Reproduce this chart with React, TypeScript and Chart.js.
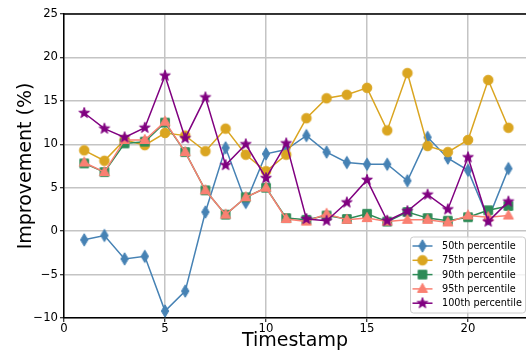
import React, { useEffect, useRef } from "react";
import { Chart, registerables } from "chart.js";

Chart.register(...registerables);

const timestamps = [1, 2, 3, 4, 5, 6, 7, 8, 9, 10, 11, 12, 13, 14, 15, 16, 17, 18, 19, 20, 21, 22];
const p50 = [-1.0, -0.5, -3.2, -2.9, -9.2, -6.9, 2.2, 9.6, 3.3, 8.9, 9.4, 11.0, 9.1, 7.9, 7.7, 7.7, 5.8, 10.8, 8.4, 7.0, 1.4, 7.2];
const p75 = [9.3, 8.1, 10.5, 9.9, 11.3, 11.0, 9.2, 11.8, 8.8, 6.9, 8.8, 13.0, 15.3, 15.7, 16.5, 11.6, 18.2, 9.8, 9.1, 10.5, 17.4, 11.9];
const p90 = [7.8, 6.8, 10.1, 10.3, 12.5, 9.1, 4.7, 1.9, 3.9, 5.0, 1.5, 1.3, 1.8, 1.4, 2.0, 1.1, 2.2, 1.5, 1.2, 1.6, 2.4, 2.9];
const p95 = [7.9, 6.8, 10.5, 10.5, 12.6, 9.1, 4.7, 1.9, 3.9, 5.0, 1.4, 1.1, 2.0, 1.3, 1.5, 1.1, 1.3, 1.3, 1.0, 1.8, 1.6, 1.8];
const p100 = [13.6, 11.8, 10.8, 11.9, 17.9, 10.7, 15.4, 7.6, 10.0, 6.1, 10.1, 1.4, 1.2, 3.3, 5.9, 1.2, 2.3, 4.2, 2.5, 8.5, 1.1, 3.4];

const seriesNames = ["50th percentile", "75th percentile", "90th percentile", "95th percentile", "100th percentile"];
const seriesColors = ["#4682b4", "#daa520", "#2e8b57", "#fa8072", "#800080"];
const seriesMarkers = ["thin_diamond", "circle", "square", "triangle", "star"];
const seriesValues = [p50, p75, p90, p95, p100];

const xTickValues = [0, 5, 10, 15, 20];
const yTickValues = [-10, -5, 0, 5, 10, 15, 20, 25];

const FONT = "'DejaVu Sans', sans-serif";

function makeMarker(kind: string, color: string): HTMLCanvasElement {
  const S = 16;
  const c = document.createElement("canvas");
  c.width = S;
  c.height = S;
  const ctx = c.getContext("2d")!;
  ctx.translate(S / 2, S / 2);
  ctx.fillStyle = color;
  ctx.strokeStyle = color;
  ctx.lineWidth = 1;
  ctx.beginPath();
  if (kind === "thin_diamond") {
    ctx.moveTo(0, -6.2);
    ctx.lineTo(3.7, 0);
    ctx.lineTo(0, 6.2);
    ctx.lineTo(-3.7, 0);
    ctx.closePath();
  } else if (kind === "circle") {
    ctx.arc(0, 0, 4.8, 0, Math.PI * 2);
  } else if (kind === "square") {
    ctx.rect(-4.3, -4.3, 8.6, 8.6);
  } else if (kind === "triangle") {
    ctx.moveTo(0, -5.6);
    ctx.lineTo(5.0, 3.5);
    ctx.lineTo(-5.0, 3.5);
    ctx.closePath();
  } else if (kind === "star") {
    const ro = 5.6, ri = 2.3;
    for (let i = 0; i < 10; i++) {
      const r = i % 2 === 0 ? ro : ri;
      const a = -Math.PI / 2 + (i * Math.PI) / 5;
      const px = r * Math.cos(a), py = r * Math.sin(a);
      if (i === 0) ctx.moveTo(px, py);
      else ctx.lineTo(px, py);
    }
    ctx.closePath();
  }
  ctx.fill();
  ctx.stroke();
  return c;
}

export default function App() {
  const ref = useRef<HTMLCanvasElement | null>(null);

  useEffect(() => {
    if (!ref.current) return;
    const markers = seriesMarkers.map((m, i) => makeMarker(m, seriesColors[i]));

    const datasets = seriesValues.map((vals, i) => ({
      label: seriesNames[i],
      data: vals.map((v, j) => ({ x: timestamps[j], y: v })),
      borderColor: seriesColors[i],
      backgroundColor: seriesColors[i],
      borderWidth: 1.5,
      pointStyle: markers[i] as any,
      pointRadius: 5,
      order: seriesValues.length - i,
      tension: 0,
    }));

    const framePlugin = {
      id: "frame",
      afterDraw(chart: any) {
        const { ctx, chartArea } = chart;
        const { left, right, top, bottom } = chartArea;
        ctx.save();
        // top spine
        ctx.strokeStyle = "#000";
        ctx.lineWidth = 1.5;
        ctx.beginPath();
        ctx.moveTo(left, top);
        ctx.lineTo(right, top);
        ctx.stroke();

        // legend
        const bw = 115, bh = 76;
        const bx = right - bw - 0.5, by = bottom - bh - 5;
        const rad = 3;
        ctx.beginPath();
        ctx.moveTo(bx + rad, by);
        ctx.lineTo(bx + bw - rad, by);
        ctx.quadraticCurveTo(bx + bw, by, bx + bw, by + rad);
        ctx.lineTo(bx + bw, by + bh - rad);
        ctx.quadraticCurveTo(bx + bw, by + bh, bx + bw - rad, by + bh);
        ctx.lineTo(bx + rad, by + bh);
        ctx.quadraticCurveTo(bx, by + bh, bx, by + bh - rad);
        ctx.lineTo(bx, by + rad);
        ctx.quadraticCurveTo(bx, by, bx + rad, by);
        ctx.closePath();
        ctx.fillStyle = "rgba(255,255,255,0.8)";
        ctx.fill();
        ctx.strokeStyle = "#cccccc";
        ctx.lineWidth = 1;
        ctx.stroke();

        ctx.font = `9.7px ${FONT}`;
        ctx.textBaseline = "middle";
        ctx.textAlign = "left";
        seriesNames.forEach((name, i) => {
          const ry = by + 9 + i * 14.3;
          ctx.strokeStyle = seriesColors[i];
          ctx.lineWidth = 1.5;
          ctx.beginPath();
          ctx.moveTo(bx + 2, ry);
          ctx.lineTo(bx + 22, ry);
          ctx.stroke();
          const m = markers[i];
          ctx.drawImage(m, bx + 12 - m.width / 2, ry - m.height / 2);
          ctx.fillStyle = "#000";
          ctx.fillText(name, bx + 31.5, ry + 0.5);
        });
        ctx.restore();
      },
    };

    const chart = new Chart(ref.current, {
      type: "line",
      data: { datasets },
      options: {
        animation: false,
        responsive: false,
        maintainAspectRatio: false,
        layout: { autoPadding: false, padding: { top: 14, left: 0, right: 0, bottom: 0 } },
        plugins: { legend: { display: false }, tooltip: { enabled: false } },
        scales: {
          x: {
            type: "linear",
            min: 0,
            max: 22.87,
            afterBuildTicks: (scale: any) => {
              scale.ticks = xTickValues.map((v) => ({ value: v }));
            },
            afterFit: (scale: any) => {
              scale.height = 33;
              scale.paddingLeft = 0;
              scale.paddingRight = 0;
            },
            ticks: {
              color: "#000",
              font: { family: FONT, size: 11.7 },
              padding: 0,
              maxRotation: 0,
            },
            grid: {
              color: "#c4c4c4",
              lineWidth: 1.5,
              tickColor: "#000",
              tickLength: 4,
              tickWidth: 1,
            },
            border: { color: "#000", width: 1.5 },
            title: {
              display: true,
              text: "Timestamp",
              color: "#000",
              font: { family: FONT, size: 19, lineHeight: 1 },
              padding: 0,
            },
          },
          y: {
            type: "linear",
            min: -10,
            max: 25,
            afterBuildTicks: (scale: any) => {
              scale.ticks = yTickValues.map((v) => ({ value: v }));
            },
            afterFit: (scale: any) => {
              scale.width = 64;
              scale.paddingTop = 0;
              scale.paddingBottom = 0;
            },
            ticks: {
              color: "#000",
              font: { family: FONT, size: 11.7 },
              padding: 2,
              callback: (v: any) => (Number(v) < 0 ? "\u2212" + Math.abs(Number(v)) : String(v)),
            },
            grid: {
              color: "#c4c4c4",
              lineWidth: 1.5,
              tickColor: "#000",
              tickLength: 4,
              tickWidth: 1,
            },
            border: { color: "#000", width: 1.5 },
            title: {
              display: true,
              text: "Improvement (%)",
              color: "#000",
              font: { family: FONT, size: 19, lineHeight: 1 },
              padding: { top: 17, bottom: 0 },
            },
          },
        },
      },
      plugins: [framePlugin],
    });

    return () => chart.destroy();
  }, []);

  return (
    <div style={{ position: "absolute", left: 0, top: 0, width: 526, height: 351 }}>
      <canvas ref={ref} width={526} height={351} style={{ width: 526, height: 351, display: "block" }} />
    </div>
  );
}
